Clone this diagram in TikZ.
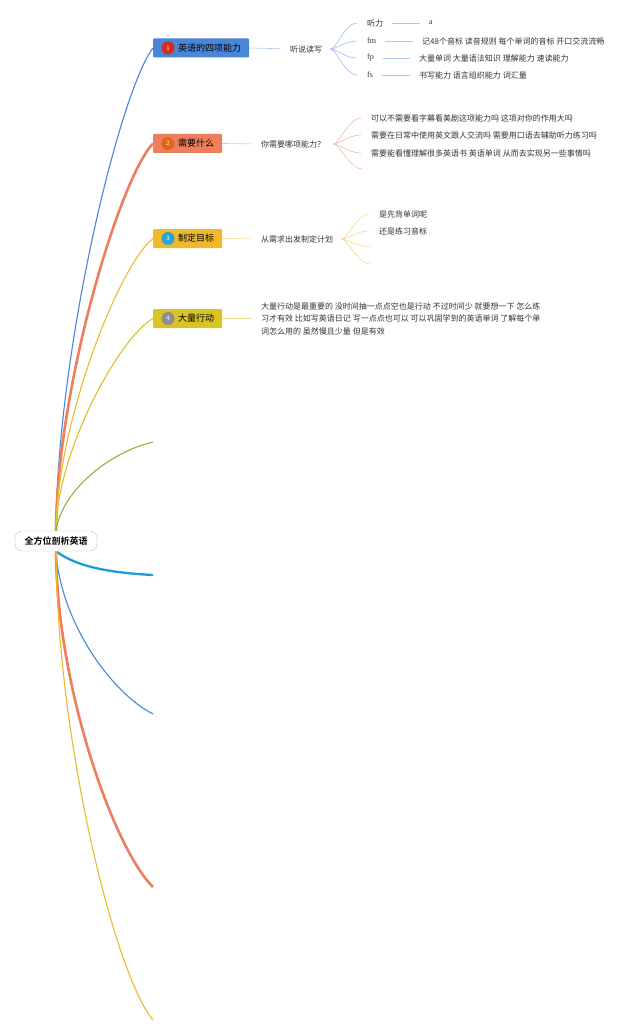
\documentclass[tikz,border=0pt]{standalone}
\usepackage{fontspec}
\usetikzlibrary{positioning,backgrounds}
\newfontfamily\cjk{Noto Sans CJK SC}[BoldFont={Noto Sans CJK SC Bold}]
\newfontfamily\serifl{Liberation Serif}
\definecolor{skyblue}{HTML}{4A86D8}
\definecolor{coral}{HTML}{EE7F5E}
\definecolor{gold}{HTML}{EEB92C}
\definecolor{mustard}{HTML}{D8C424}
\definecolor{olive}{HTML}{9AB03A}
\definecolor{cyan}{HTML}{1C9DDB}
\definecolor{badgered}{HTML}{D62B1F}
\definecolor{badgeorange}{HTML}{E2631E}
\definecolor{badgeteal}{HTML}{2AA3D6}
\definecolor{badgegray}{HTML}{8E8E8E}
\definecolor{inktext}{HTML}{333333}

\begin{document}
\begin{tikzpicture}[x=1pt, y=-1pt,
      root/.style={draw=black!25, rounded corners=7pt, fill=white,
        minimum width=82pt, minimum height=20pt, inner sep=0pt,
        font=\cjk\bfseries\fontsize{9}{9}\selectfont},
      topic/.style={anchor=west, rounded corners=1pt, minimum height=19pt,
        inner xsep=8pt, inner ysep=0pt,
        font=\cjk\fontsize{9}{9}\selectfont},
      badge/.style={circle, minimum size=13pt, inner sep=0pt, text=white!85,
        font=\cjk\fontsize{6}{6}\selectfont},
      note/.style={anchor=west, inner xsep=0pt, inner ysep=1pt, text=inktext,
        font=\cjk\fontsize{8}{8}\selectfont},
      trunk/.style={line width=1.1pt},
      thick trunk/.style={line width=2.6pt},
      link/.style={line width=.6pt},
      fan/.style={line width=.6pt, shorten <=8pt, shorten >=10pt}
    ]
      \useasboundingbox (0,0) rectangle (640,1035);

      % root and main topics
      \node[root] (root) at (56,541) {全方位剖析英语};
      \node[topic, fill=skyblue] (ability) at (153,48) {\hspace*{17pt}英语的四项能力};
      \node[topic, fill=coral] (need) at (153,143.5) {\hspace*{17pt}需要什么};
      \node[topic, fill=gold] (goal) at (153,238.5) {\hspace*{17pt}制定目标};
      \node[topic, fill=mustard] (action) at (153,318.5) {\hspace*{17pt}大量行动};
      \node[badge, fill=badgered] (n1) at ([xshift=15pt]ability.west) {1};
      \node[badge, fill=badgeorange] (n2) at ([xshift=15pt]need.west) {2};
      \node[badge, fill=badgeteal] (n3) at ([xshift=15pt]goal.west) {3};
      \node[badge, fill=badgegray] (n4) at ([xshift=15pt]action.west) {4};

      % empty topics
      \coordinate (blank5) at (153,442);
      \coordinate (blank6) at (153,575);
      \coordinate (blank7) at (153,714);
      \coordinate (blank8) at (153,887);
      \coordinate (blank9) at (153,1020);

      % branch 1
      \node[note] (skills) at (290,49) {听说读写};
      \node[note] (listen) at (367,23) {听力};
      \node[note, font=\serifl\fontsize{8}{8}\selectfont] (fm) at (367,41) {fm};
      \node[note, font=\serifl\fontsize{8}{8}\selectfont] (fp) at (367,58) {fp};
      \node[note, font=\serifl\fontsize{8}{8}\selectfont] (fs) at (367,75) {fs};
      \node[note, font=\serifl\fontsize{8}{8}\selectfont] (la) at (429,23) {a};
      \node[note] (fmtext) at (422,41) {记48个音标 读音规则 每个单词的音标 开口交流流畅};
      \node[note] (fptext) at (419,58) {大量单词 大量语法知识 理解能力 速读能力};
      \node[note] (fstext) at (419,75) {书写能力 语言组织能力 词汇量};

      % branch 2
      \node[note] (which) at (261,144) {你需要哪项能力？};
      \node[note] (q1) at (371,118) {可以不需要看字幕看美剧这项能力吗 这项对你的作用大吗};
      \node[note] (q2) at (371,135) {需要在日常中使用英文跟人交流吗 需要用口语去辅助听力练习吗};
      \node[note] (q3) at (371,153) {需要能看懂理解很多英语书 英语单词 从而去实现另一些事情吗};
      \coordinate (q4) at (372,169);

      % branch 3
      \node[note] (plan) at (261,239) {从需求出发制定计划};
      \node[note] (p1) at (379,214) {是先背单词呢};
      \node[note] (p2) at (379,231) {还是练习音标};
      \coordinate (p3) at (380,247);
      \coordinate (p4) at (380,264);

      % branch 4
      \node[note, align=left, font=\cjk\fontsize{8}{12.5}\selectfont] (doit) at (261,318.5)
        {大量行动是最重要的 没时间抽一点点空也是行动 不过时间少 就要想一下 怎么练\\
         习才有效 比如写英语日记 写一点点也可以 可以巩固学到的英语单词 了解每个单\\
         词怎么用的 虽然慢且少量 但是有效};

      \begin{scope}[on background layer]
        \fill[white] (0,0) rectangle (640,1035);
        \draw[trunk, skyblue] (root.north) .. controls (57,350) and (120,91) .. (ability.west);
        \draw[thick trunk, coral] (root.north) .. controls (57,386) and (120,178) .. (need.west);
        \draw[trunk, gold] (root.north) .. controls (57,421) and (120,264) .. (goal.west);
        \draw[trunk, mustard!90!gold] (root.north) .. controls (57,450) and (120,337) .. (action.west);
        \draw[trunk, olive] (root.north) .. controls (62,490) and (110,452) .. (blank5);
        \draw[thick trunk, cyan, line width=2.3pt] (root.south) .. controls (78,568) and (115,573) .. (blank6);
        \draw[trunk, skyblue!90!cyan] (root.south) .. controls (60,620) and (110,692) .. (blank7);
        \draw[thick trunk, coral] (root.south) .. controls (57,690) and (115,850) .. (blank8);
        \draw[trunk, gold] (root.south) .. controls (57,740) and (115,975) .. (blank9);

        % branch 1 links
        \draw[link, skyblue!45, shorten >=10pt] (ability.east) -- (skills.west);
        \foreach \item in {listen,fm,fp,fs}
          \draw[fan, blue!25!skyblue!45] (skills.east) .. controls +(14,0) and +(-22,0) .. (\item.west);
        \draw[link, skyblue!45, shorten <=9pt, shorten >=9pt] (listen.east) -- (la.west);
        \draw[link, skyblue!45, shorten <=9pt, shorten >=9pt] (fm.east) -- (fmtext.west);
        \draw[link, skyblue!45, shorten <=9pt, shorten >=9pt] (fp.east) -- (fptext.west);
        \draw[link, skyblue!45, shorten <=9pt, shorten >=9pt] (fs.east) -- (fstext.west);

        % branch 2 links
        \draw[link, coral!55, shorten >=9pt] (need.east) -- (which.west);
        \foreach \item in {q1,q2,q3}
          \draw[fan, coral!55] (which.east) .. controls +(14,0) and +(-22,0) .. (\item.west);
        \draw[fan, coral!55] (which.east) .. controls +(14,0) and +(-22,0) .. (q4);

        % branch 3 links
        \draw[link, gold!55, shorten >=9pt] (goal.east) -- (plan.west);
        \foreach \item in {p1,p2}
          \draw[fan, gold!55] (plan.east) .. controls +(14,0) and +(-22,0) .. (\item.west);
        \foreach \item in {p3,p4}
          \draw[fan, gold!55] (plan.east) .. controls +(14,0) and +(-22,0) .. (\item);

        % branch 4 link
        \draw[link, mustard!50, shorten >=9pt] (action.east) -- (doit.west);
      \end{scope}
    \end{tikzpicture}
\end{document}
